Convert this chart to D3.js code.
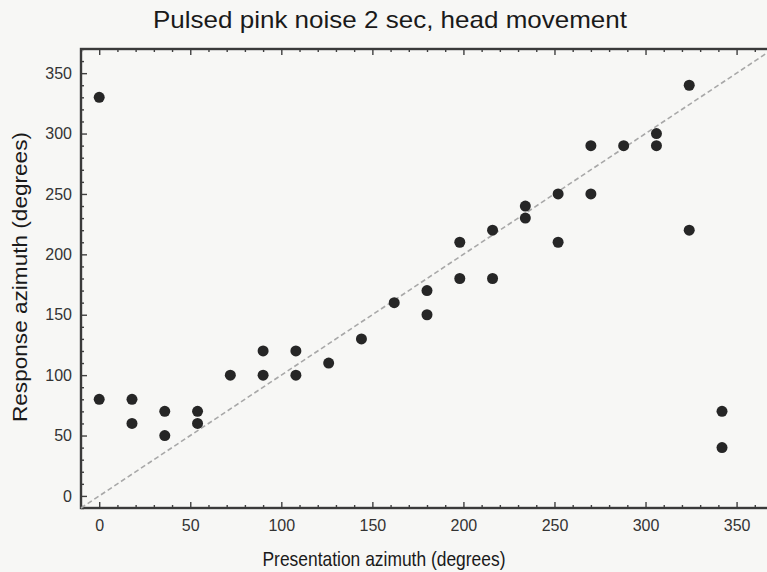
<!DOCTYPE html>
<html>
<head>
<meta charset="utf-8">
<script src="https://cdn.jsdelivr.net/npm/d3@7"></script>
<style>
  body { margin: 0; background: #f7f7f5; }
  svg { display: block; font-family: 'Liberation Sans', Arial, sans-serif; }
  .axis path, .axis line { stroke: #404040; }
  .axis text { fill: #333; font-size: 16px; }
</style>
</head>
<body>
<svg width="767" height="572"></svg>
<script>
'use strict';

///////////////////////////// data ///////////////////////////
// presentation azimuth of each response (degrees), two trials per position
var presentation = [0, 0, 18, 18, 36, 36, 54, 54, 72, 90, 90, 108, 108, 126,
    144, 162, 180, 180, 198, 198, 216, 216, 234, 234, 252, 252, 270, 270,
    288, 306, 306, 324, 324, 342, 342];
// response azimuth reported by listener (degrees)
var response = [80, 330, 80, 60, 70, 50, 70, 60, 100, 120, 100, 120, 100, 110,
    130, 160, 170, 150, 210, 180, 180, 220, 240, 230, 250, 210, 290, 250,
    290, 300, 290, 340, 220, 70, 40];
var majorTicks = [0, 50, 100, 150, 200, 250, 300, 350];
var minorTicks = d3.range(-10, 371, 10).filter(function(v) { return v % 50 !== 0; });

var svg = d3.select('svg'),
    plotLeft = 81, plotRight = 773, plotTop = 49, plotBottom = 508;

var x = d3.scaleLinear().domain([-10, 370]).range([plotLeft, plotRight]);
var y = d3.scaleLinear().domain([-10, 370]).range([plotBottom, plotTop]);

// axes, ticks pointing inward
function addAxis(axisFn, scale, values, size, transform, labels) {
    var a = axisFn(scale).tickValues(values).tickSizeInner(-size).tickSizeOuter(0);
    if (labels) { a.tickPadding(labels); } else { a.tickFormat(''); }
    var g = svg.append('g').attr('class', 'axis').attr('transform', transform).call(a);
    g.select('.domain').remove();
    g.selectAll('line').attr('stroke-width', 1.4);
    return g;
}
addAxis(d3.axisBottom, x, majorTicks, 6, 'translate(0,' + plotBottom + ')', 12);
addAxis(d3.axisBottom, x, minorTicks, 3, 'translate(0,' + plotBottom + ')');
addAxis(d3.axisTop, x, majorTicks, 6, 'translate(0,' + plotTop + ')');
addAxis(d3.axisTop, x, minorTicks, 3, 'translate(0,' + plotTop + ')');
addAxis(d3.axisLeft, y, majorTicks, 6, 'translate(' + plotLeft + ',0)', 9);
addAxis(d3.axisLeft, y, minorTicks, 3, 'translate(' + plotLeft + ',0)');
addAxis(d3.axisRight, y, majorTicks, 6, 'translate(' + plotRight + ',0)');
addAxis(d3.axisRight, y, minorTicks, 3, 'translate(' + plotRight + ',0)');

// frame
svg.append('rect')
    .attr('x', plotLeft).attr('y', plotTop)
    .attr('width', plotRight - plotLeft).attr('height', plotBottom - plotTop)
    .attr('fill', 'none')
    .attr('stroke', '#3a3a3a')
    .attr('stroke-width', 2.4);

// identity line
svg.append('line')
    .attr('x1', x(-10)).attr('y1', y(-10))
    .attr('x2', x(370)).attr('y2', y(370))
    .attr('stroke', '#a8a8a8')
    .attr('stroke-width', 1.6)
    .attr('stroke-dasharray', '5,3');

// responses
svg.selectAll('.dot')
    .data(presentation)
    .enter()
    .append('circle')
    .attr('class', 'dot')
    .attr('cx', function(d) { return x(d); })
    .attr('cy', function(d, i) { return y(response[i]); })
    .attr('r', 5.5)
    .attr('fill', '#262626');

// titles
svg.append('text')
    .attr('x', 390).attr('y', 28)
    .attr('text-anchor', 'middle')
    .attr('font-size', 24)
    .attr('fill', '#1a1a1a')
    .attr('textLength', 474)
    .attr('lengthAdjust', 'spacingAndGlyphs')
    .text('Pulsed pink noise 2 sec, head movement');

svg.append('text')
    .attr('x', 384).attr('y', 566)
    .attr('text-anchor', 'middle')
    .attr('font-size', 21)
    .attr('fill', '#1a1a1a')
    .attr('textLength', 243)
    .attr('lengthAdjust', 'spacingAndGlyphs')
    .text('Presentation azimuth (degrees)');

svg.append('text')
    .attr('transform', 'translate(27,277) rotate(-90)')
    .attr('text-anchor', 'middle')
    .attr('font-size', 21)
    .attr('fill', '#1a1a1a')
    .attr('textLength', 290)
    .attr('lengthAdjust', 'spacingAndGlyphs')
    .text('Response azimuth (degrees)');
</script>
</body>
</html>
